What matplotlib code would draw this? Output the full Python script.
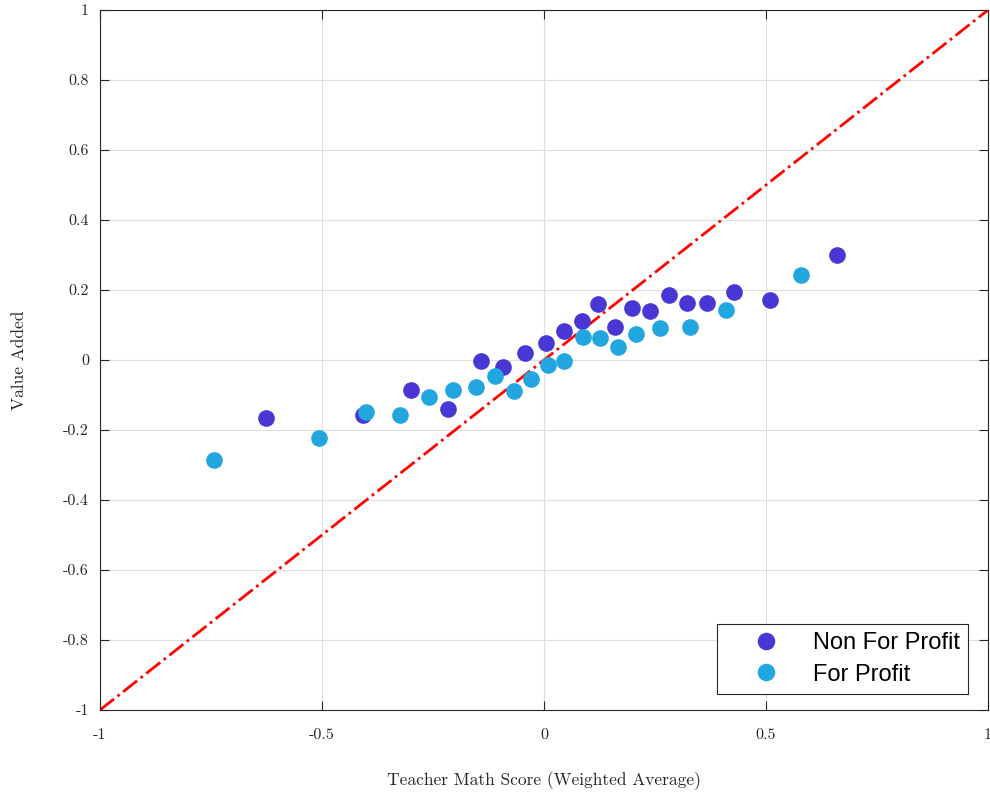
import matplotlib
matplotlib.use("Agg")
import matplotlib.pyplot as plt
import numpy as np

plt.rcParams['axes.unicode_minus'] = False

# Non For Profit
nfp_x = [-0.626, -0.408, -0.300, -0.216, -0.142, -0.092, -0.043, 0.005, 0.045, 0.086,
         0.122, 0.160, 0.198, 0.238, 0.282, 0.322, 0.368, 0.427, 0.509, 0.660]
nfp_y = [-0.166, -0.158, -0.087, -0.139, -0.003, -0.021, 0.021, 0.048, 0.084, 0.111,
         0.160, 0.095, 0.149, 0.139, 0.185, 0.162, 0.163, 0.194, 0.171, 0.300]

# For Profit
fp_x = [-0.744, -0.506, -0.401, -0.324, -0.258, -0.205, -0.154, -0.110, -0.068, -0.030,
        0.009, 0.046, 0.088, 0.127, 0.166, 0.207, 0.261, 0.328, 0.410, 0.579]
fp_y = [-0.287, -0.222, -0.148, -0.157, -0.105, -0.085, -0.078, -0.046, -0.090, -0.054,
        -0.015, -0.003, 0.067, 0.063, 0.036, 0.073, 0.091, 0.093, 0.143, 0.243]

ticks = [-1, -0.8, -0.6, -0.4, -0.2, 0, 0.2, 0.4, 0.6, 0.8, 1]
xticks = [-1, -0.5, 0, 0.5, 1]

fig = plt.figure(figsize=(9.9, 7.93), dpi=100)
ax = fig.add_axes([0.101, 0.1047, 0.897, 0.8827])

ax.plot([-1, 1], [-1, 1], color='red', linestyle='-.', linewidth=2, zorder=2)
ax.plot(nfp_x, nfp_y, 'o', color='#4837d4', markersize=12, markeredgewidth=0,
        label='Non For Profit', zorder=3)
ax.plot(fp_x, fp_y, 'o', color='#22a6e0', markersize=12, markeredgewidth=0,
        label='For Profit', zorder=3)

ax.set_xlim(-1, 1)
ax.set_ylim(-1, 1)
ax.set_xticks(xticks)
ax.set_xticklabels([f'{t:g}' for t in xticks])
ax.set_yticks(ticks)
ax.set_yticklabels([f'{t:g}' for t in ticks])
ax.grid(True, color='#dedede', linewidth=0.8)
ax.set_axisbelow(True)
ax.tick_params(direction='in', top=True, right=True, length=6.5, width=0.8,
               colors='#262626', labelsize=11.5, pad=8)
ax.tick_params(axis='x', pad=13)
for lab in ax.get_xticklabels() + ax.get_yticklabels():
    lab.set_fontfamily('cmr10')
for s in ax.spines.values():
    s.set_color('#262626')
    s.set_linewidth(0.8)

ax.set_xlabel('Teacher Math Score (Weighted Average)', fontfamily='cmr10',
              fontsize=12.5, color='#262626', labelpad=21)
ax.set_ylabel('Value Added', fontfamily='cmr10', fontsize=12.5,
              color='#262626', labelpad=26)

leg = ax.legend(loc='lower right', bbox_to_anchor=(0.9775, 0.0229),
                borderaxespad=0,
                prop={'family': 'Liberation Sans', 'size': 17},
                fancybox=False, framealpha=1, edgecolor='#262626',
                handletextpad=0.25, borderpad=0.35, labelspacing=0.4,
                handlelength=3.45, markerscale=1.05)
leg.get_frame().set_linewidth(0.8)

fig.savefig('out.png', dpi=100)
